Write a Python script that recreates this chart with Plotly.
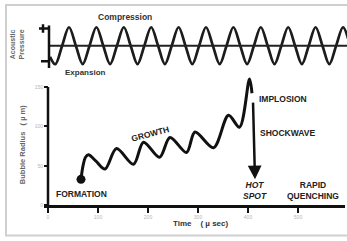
import plotly.graph_objects as go

W, H = 347, 241

# Acoustic pressure wave (schematic): time (µs-like units) and normalized pressure
press_t = [4, 14.6, 28.3, 42, 55.7, 69.4, 83.1, 96.8, 110.5, 124.2, 137.9, 151.6, 165.3, 179,
           192.7, 206.4, 220.1, 233.8, 247.5, 261.2, 274.9, 288.6, 302.3, 316, 329.7, 343.4,
           357.1, 370.8, 384.5, 398.2, 411.9, 425.6, 439.3, 453, 466.7, 480.4, 494.1, 507.8,
           521.5, 535.2, 548.9, 562.6, 576.3, 590, 600]
press_v = [-0.6, -1, 0, 1, 0, -1, 0, 1, 0, -1, 0, 1, 0, -1, 0, 1, 0, -1, 0, 1, 0, -1, 0, 1, 0,
           -1, 0, 1, 0, -1, 0, 1, 0, -1, 0, 1, 0, -1, 0, 1, 0, -1, 0, 1, 0.4]

# Bubble radius curve (µm) vs time (µs)
radius_t = [66, 70, 75, 81, 96, 114, 137, 171, 191, 223, 244, 277, 294, 331, 361, 383, 403, 408]
radius_v = [33, 50, 61, 64, 56, 46, 72, 52, 80, 61, 86, 67, 93, 73, 114, 99, 160, 142]

formation_t, formation_v = [66], [33]
arrow_start = (410, 132)
arrow_end = (414, 33)

x_ticks = [0, 100, 200, 300, 400, 500]
y_ticks = [0, 50, 100, 150]

fig = go.Figure()

fig.add_trace(go.Scatter(x=press_t, y=press_v, mode="lines",
                         line=dict(color="#1c1c1c", width=2.7, shape="spline", smoothing=1.0),
                         xaxis="x", yaxis="y", showlegend=False, hoverinfo="skip"))

fig.add_trace(go.Scatter(x=radius_t, y=radius_v, mode="lines",
                         line=dict(color="#111", width=3, shape="spline", smoothing=0.9),
                         xaxis="x2", yaxis="y2", showlegend=False, hoverinfo="skip"))
fig.add_trace(go.Scatter(x=formation_t, y=formation_v, mode="markers",
                         marker=dict(color="#111", size=9),
                         xaxis="x2", yaxis="y2", showlegend=False, hoverinfo="skip"))

def px(x):
    return x / W

def py(y):
    return 1 - y / H

fig.update_layout(
    width=W, height=H, margin=dict(l=0, r=0, t=0, b=0),
    paper_bgcolor="white", plot_bgcolor="rgba(0,0,0,0)",
    xaxis=dict(domain=[px(30), 1], range=[-36, 598], visible=False),
    yaxis=dict(domain=[py(70.6), py(22)], range=[-1.3, 1.3], visible=False),
    xaxis2=dict(domain=[px(44), px(345)], range=[-8, 594], anchor="y2",
                showline=True, linecolor="#111", linewidth=2.5, showgrid=False, zeroline=False,
                ticks="outside", tickvals=x_ticks, ticklen=5, tickwidth=2, tickcolor="#111",
                tickfont=dict(size=5, color="#b5b5b5", family="Liberation Sans")),
    yaxis2=dict(domain=[py(208), py(78)], range=[0, 162.5], anchor="free", position=px(48),
                showline=False, showgrid=False, zeroline=False,
                ticks="outside", tickvals=y_ticks, ticklen=4, tickwidth=2, tickcolor="#111",
                tickfont=dict(size=5, color="#b5b5b5", family="Liberation Sans")),
)

shapes = [
    # frame
    dict(type="rect", xref="paper", yref="paper", x0=px(6), x1=px(420), y0=py(238.5), y1=py(5),
         line=dict(color="#cfcfcf", width=2)),
    # top center line
    dict(type="line", xref="x", yref="y", x0=2, x1=598, y0=0, y1=0,
         line=dict(color="#222", width=2)),
    # top vertical axis
    dict(type="line", xref="x", yref="y", x0=2, x1=2, y0=1.1, y1=-1.2,
         line=dict(color="#111", width=2.5)),
    # plus sign
    dict(type="line", xref="x", yref="y", x0=-18, x1=2, y0=0.93, y1=0.93,
         line=dict(color="#111", width=2.5)),
    dict(type="line", xref="x", yref="y", x0=-10, x1=-10, y0=0.7, y1=1.16,
         line=dict(color="#111", width=2.5)),
    # minus sign
    dict(type="line", xref="x", yref="y", x0=-14, x1=2, y0=-0.84, y1=-0.84,
         line=dict(color="#111", width=2.5)),
    # bottom y axis line
    dict(type="line", xref="x2", yref="y2", x0=0, x1=0, y0=0, y1=150,
         line=dict(color="#111", width=2.5)),
]
fig.update_layout(shapes=shapes)

F = "Liberation Sans"
def txt(t, x, y, size=8.5, color="#222", angle=0, xanchor="center", italic=False):
    if italic:
        t = "<i>" + t + "</i>"
    return dict(text="<b>" + t + "</b>", x=px(x), y=py(y), xref="paper", yref="paper",
                showarrow=False, textangle=angle, xanchor=xanchor, yanchor="middle",
                font=dict(family=F, size=size, color=color), align="center")

annotations = [
    txt("Compression", 125, 17, 8.5, "#333"),
    txt("Expansion", 85, 73, 8, "#333"),
    txt("Acoustic<br>Pressure", 17, 45, 7, "#666", angle=-90),
    txt("Bubble Radius   ( µ m)", 22, 147, 7.5, "#666", angle=-90),
    txt("Time    ( µ sec)", 200, 226, 8, "#333"),
    txt("FORMATION", 81, 196, 8.5, "#222"),
    txt("GROWTH", 150, 136, 8.5, "#222", angle=-15),
    txt("IMPLOSION", 257, 100, 8.5, "#222", xanchor="left"),
    txt("SHOCKWAVE", 258, 135, 8.5, "#222", xanchor="left"),
    txt("HOT<br>SPOT", 255, 193, 8.5, "#222", italic=True),
    txt("RAPID<br>QUENCHING", 313, 193, 8.5, "#222"),
    dict(x=arrow_end[0], y=arrow_end[1], ax=arrow_start[0], ay=arrow_start[1],
         xref="x2", yref="y2", axref="x2", ayref="y2", text="", showarrow=True,
         arrowhead=2, arrowsize=1.1, arrowwidth=2.5, arrowcolor="#111"),
]
fig.update_layout(annotations=annotations)

fig.write_html("out.html", config={"displayModeBar": False, "staticPlot": True},
               post_script="document.body.style.margin='0';document.body.style.overflow='hidden';")
